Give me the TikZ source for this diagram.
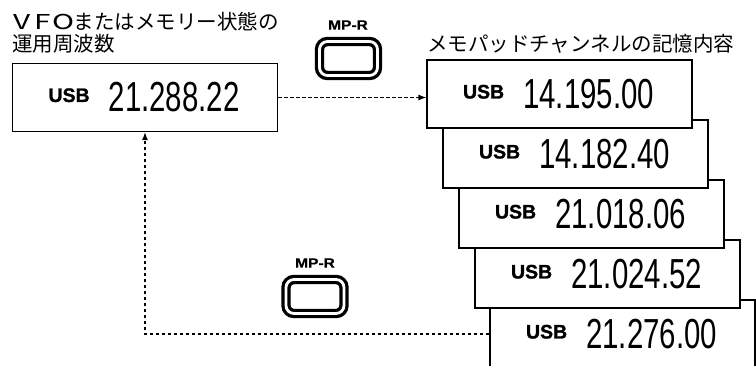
\documentclass[tikz,border=0pt]{standalone}
\usepackage{fontspec}
\usetikzlibrary{arrows.meta}
\newfontfamily\jpfont{Noto Sans CJK JP}
\newfontfamily\numfont[FakeStretch=0.7]{Liberation Sans}
\newfontfamily\usbfont[FakeBold=1.2]{Liberation Sans Bold}
\newfontfamily\mprfamily[FakeStretch=1.15,FakeBold=0.8]{Liberation Sans Bold}
\newcommand{\disptext}[1]{\makebox[265pt][l]{\hspace*{36pt}\raisebox{10pt}{\usbfont\fontsize{19.5}{19.5}\selectfont USB}\hspace{19pt}{\numfont\fontsize{42}{42}\selectfont #1}}}
\newcommand{\fwl}[1]{\makebox[1em]{\scalebox{1.45}[1]{#1}}}
\tikzset{
  disp/.style={draw, line width=1.2pt, fill=white, inner sep=0pt, minimum width=265pt, minimum height=68pt},
  btn/.style={draw, double=white, double distance=2.8pt, line width=3.3pt, rounded corners=8pt, minimum width=58pt, minimum height=34pt, inner sep=0pt},
  conn/.style={line width=1.2pt, dash pattern=on 3.5pt off 2.5pt, -{Latex[length=8pt,width=6pt]}},
  jp/.style={font=\jpfont\fontsize{20.5}{24}\selectfont, inner sep=0pt},
  mpr/.style={font=\mprfamily\fontsize{13.5}{13.5}\selectfont, inner sep=0pt}
}
\begin{document}
\begin{tikzpicture}[x=1pt,y=-1pt]
\useasboundingbox (0,0) rectangle (756,365);
\clip (0,0) rectangle (756,365);
% labels
\node[jp, anchor=base west] (t1) at (12,29) {\fwl{V}\fwl{F}\fwl{O}またはメモリー状態の};
\node[jp, anchor=base west] (t2) at (12,51) {運用周波数};
\node[jp, anchor=base west] (t3) at (427,51) {メモパッドチャンネルの記憶内容};
% main display
\node[disp] (m0) at (145,97.5) {\disptext{21.288.22}};
% memo pad stack (back to front)
\node[disp] (m5) at (622.5,334) {\disptext{21.276.00}};
\node[disp] (m4) at (607.5,274) {\disptext{21.024.52}};
\node[disp] (m3) at (591.5,214) {\disptext{21.018.06}};
\node[disp] (m2) at (575.5,154) {\disptext{14.182.40}};
\node[disp] (m1) at (559.5,94) {\disptext{14.195.00}};
% buttons
\node[mpr] (l1) at (348,25) {MP-R};
\node[btn] (b1) at (348.5,58.5) {};
\node[mpr] (l2) at (315,263) {MP-R};
\node[btn] (b2) at (315,296.5) {};
% connectors
\draw[conn] (m0.east) -- (m0.east -| m1.west);
\draw[conn] (m5.west) -| (m0.south);
\end{tikzpicture}
\end{document}
